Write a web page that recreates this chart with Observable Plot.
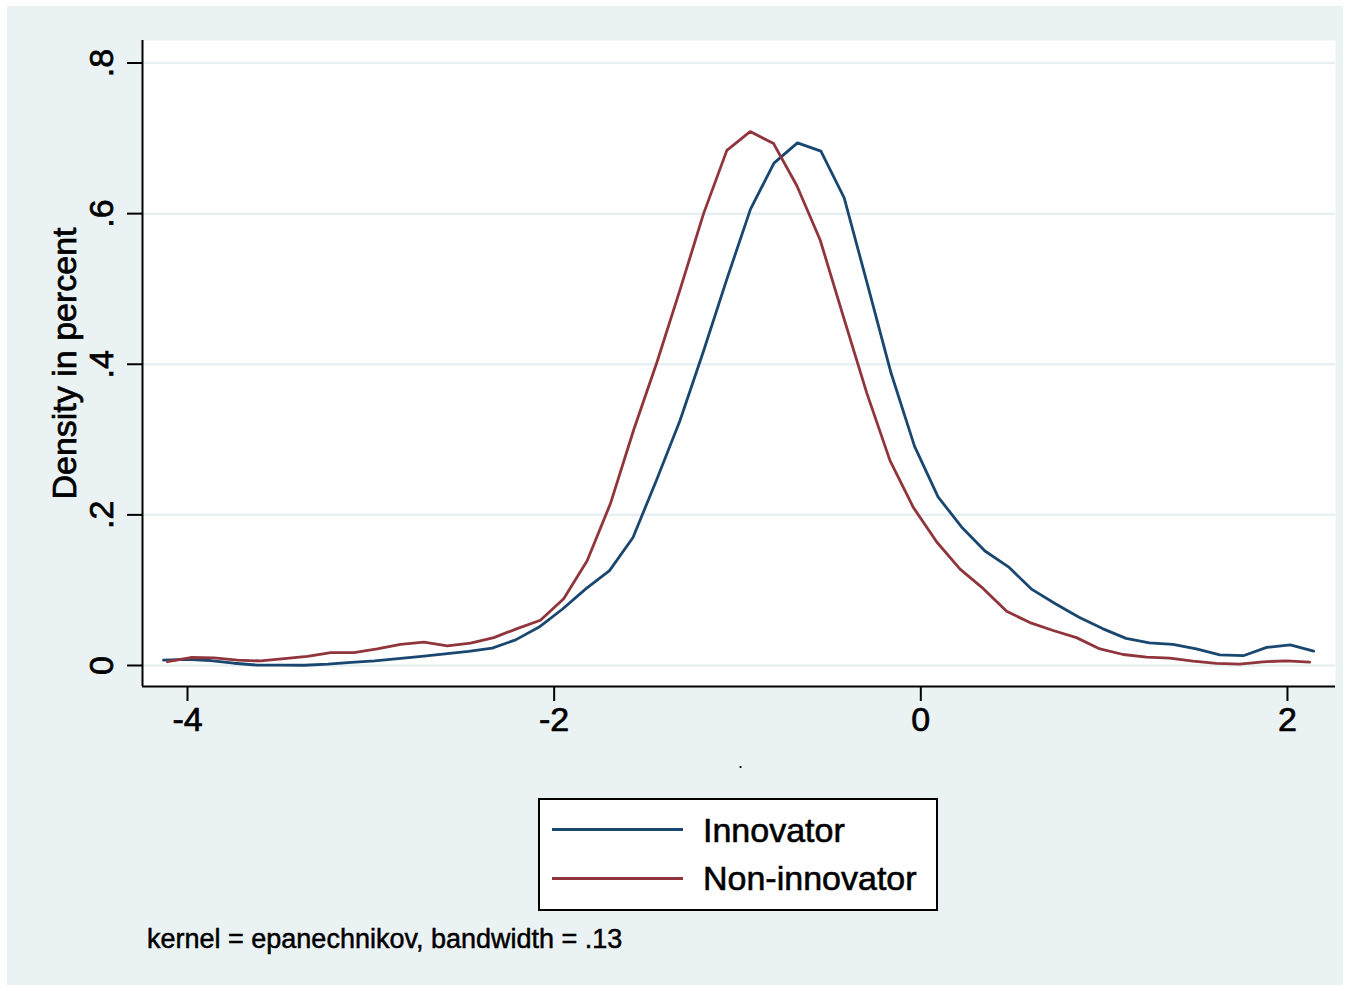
<!DOCTYPE html>
<html>
<head>
<meta charset="utf-8">
<script src="https://cdn.jsdelivr.net/npm/d3@7"></script>
<script src="https://cdn.jsdelivr.net/npm/@observablehq/plot@0.6"></script>
<style>
  body { margin: 0; background: #ffffff; font-family: "Liberation Sans", Arial, sans-serif; }
  #panel { position: absolute; left: 7px; top: 6px; width: 1336px; height: 979px; background: #eaf2f3; }
  #chart { position: absolute; left: 0; top: 0; }
  #chart svg text { stroke: #000; stroke-width: 0.7px; paint-order: stroke; }
  #legend { position: absolute; left: 538px; top: 798px; width: 396px; height: 109px; border: 2px solid #000; background: #fff; }
  .sw { position: absolute; left: 12px; width: 131px; height: 0; border-top: 3px solid; }
  .lt { position: absolute; left: 163px; font-size: 34px; line-height: 34px; color: #000; white-space: nowrap; -webkit-text-stroke: 0.6px #000; }
  #note { position: absolute; left: 147px; top: 926px; font-size: 27px; line-height: 27px; color: #000; white-space: nowrap; -webkit-text-stroke: 0.5px #000; }
  #xtitle { position: absolute; left: 738px; top: 753px; font-size: 18px; line-height: 18px; color: #000; }
</style>
</head>
<body>
<div id="panel"></div>
<div id="chart"></div>
<div id="xtitle">.</div>
<div id="legend"></div>
<div id="note"></div>
<script>
// ---- data ----
const innovatorX = [-4.131, -4.003, -3.875, -3.747, -3.619, -3.491, -3.363, -3.235, -3.107, -2.979,
  -2.851, -2.723, -2.595, -2.467, -2.338, -2.210, -2.082, -1.954, -1.826, -1.698,
  -1.570, -1.442, -1.314, -1.186, -1.058, -0.929, -0.801, -0.673, -0.545, -0.418,
  -0.290, -0.162, -0.034, 0.094, 0.222, 0.350, 0.478, 0.606, 0.734, 0.863,
  0.991, 1.119, 1.247, 1.375, 1.503, 1.631, 1.759, 1.887, 2.015, 2.143];
const innovatorY = [0.007, 0.008, 0.0066, 0.003, 0.0005, 0.0004, 0.0003, 0.0017, 0.004, 0.006,
  0.009, 0.012, 0.0155, 0.0186, 0.023, 0.034, 0.051, 0.075, 0.102, 0.126,
  0.170, 0.246, 0.325, 0.417, 0.513, 0.606, 0.667, 0.694, 0.683, 0.621,
  0.505, 0.388, 0.291, 0.224, 0.184, 0.152, 0.131, 0.101, 0.082, 0.064,
  0.049, 0.036, 0.030, 0.028, 0.022, 0.014, 0.013, 0.024, 0.0275, 0.019];
const nonInnovatorX = [-4.109, -3.982, -3.855, -3.727, -3.600, -3.473, -3.346, -3.219, -3.092, -2.965,
  -2.838, -2.710, -2.583, -2.456, -2.329, -2.202, -2.075, -1.948, -1.820, -1.693,
  -1.566, -1.439, -1.312, -1.185, -1.058, -0.931, -0.803, -0.676, -0.549, -0.422,
  -0.295, -0.168, -0.041, 0.087, 0.214, 0.341, 0.468, 0.595, 0.722, 0.849,
  0.977, 1.104, 1.231, 1.358, 1.485, 1.612, 1.739, 1.867, 1.994, 2.121];
const nonInnovatorY = [0.005, 0.0106, 0.010, 0.007, 0.006, 0.009, 0.012, 0.017, 0.017, 0.022,
  0.028, 0.031, 0.026, 0.0296, 0.037, 0.049, 0.060, 0.0885, 0.139, 0.215,
  0.313, 0.403, 0.500, 0.600, 0.684, 0.709, 0.693, 0.637, 0.565, 0.463,
  0.362, 0.272, 0.210, 0.164, 0.128, 0.102, 0.072, 0.057, 0.0465, 0.037,
  0.022, 0.0146, 0.011, 0.0097, 0.0057, 0.0027, 0.0017, 0.0049, 0.0062, 0.0044];
const seriesNames = ["Innovator", "Non-innovator"];
const seriesColors = ["#1a476f", "#90353b"];
const yTicks = [0, 0.2, 0.4, 0.6, 0.8];
const yTickLabels = ["0", ".2", ".4", ".6", ".8"];
const xTicks = [-4, -2, 0, 2];
const xTickLabels = ["-4", "-2", "0", "2"];
const yTitle = "Density in percent";
const noteText = "kernel = epanechnikov, bandwidth = .13";

// ---- build ----
const xDomain = [-4.2455, 2.262];
const yDomain = [-0.0279, 0.8299];
const innov = innovatorX.map((x, i) => ({x, y: innovatorY[i]}));
const non = nonInnovatorX.map((x, i) => ({x, y: nonInnovatorY[i]}));
const H = 760;

const chart = Plot.plot({
  width: 1350,
  height: H,
  marginLeft: 142,
  marginRight: 15,
  marginTop: 40,
  marginBottom: H - 686,
  x: {domain: xDomain},
  y: {domain: yDomain},
  style: {background: "transparent", color: "#000", fontFamily: '"Liberation Sans", Arial, sans-serif', overflow: "visible"},
  marks: [
    Plot.frame({fill: "#ffffff", stroke: null}),
    Plot.gridY(yTicks, {stroke: "#e6eff1", strokeOpacity: 1, strokeWidth: 2.5}),
    Plot.line(innov, {x: "x", y: "y", stroke: seriesColors[0], strokeWidth: 2.8}),
    Plot.line(non, {x: "x", y: "y", stroke: seriesColors[1], strokeWidth: 2.8}),
    Plot.ruleX([xDomain[0]], {stroke: "#000", strokeWidth: 2}),
    Plot.ruleY([yDomain[0]], {stroke: "#000", strokeWidth: 2}),
    Plot.axisY({ticks: yTicks, tickSize: 15, strokeWidth: 2, label: null, tickFormat: () => ""}),
    Plot.text(yTicks, {x: xDomain[0], y: d => d, text: (d, i) => yTickLabels[i], rotate: -90, dx: -30, fontSize: 34, textAnchor: "middle", lineAnchor: "bottom", fill: "#000"}),
    Plot.axisX({ticks: xTicks, tickSize: 15, tickPadding: 5, strokeWidth: 2, fontSize: 34, label: null, tickFormat: d => xTickLabels[xTicks.indexOf(d)]}),
    Plot.text([yTitle], {frameAnchor: "left", text: d => d, rotate: -90, dx: -67, fontSize: 34, textAnchor: "middle", lineAnchor: "bottom", fill: "#000"})
  ]
});
document.getElementById("chart").appendChild(chart);

// legend
const legend = document.getElementById("legend");
seriesNames.forEach((name, i) => {
  const sw = document.createElement("div");
  sw.className = "sw";
  sw.style.borderTopColor = seriesColors[i];
  sw.style.top = (28 + i * 49) + "px";
  legend.appendChild(sw);
  const t = document.createElement("div");
  t.className = "lt";
  t.style.top = (13 + i * 48) + "px";
  t.textContent = name;
  legend.appendChild(t);
});
document.getElementById("note").textContent = noteText;
</script>
</body>
</html>
